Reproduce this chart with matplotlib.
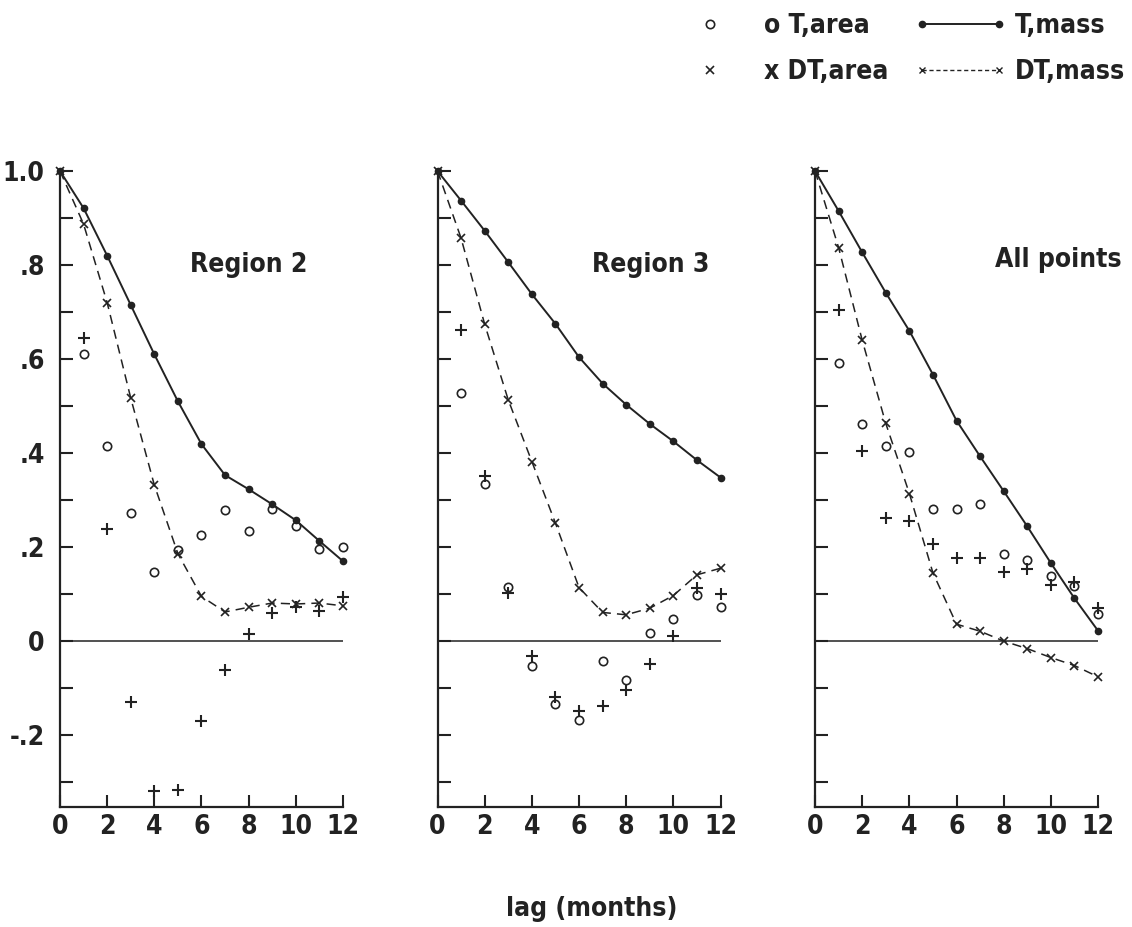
import numpy as np
import matplotlib
matplotlib.use("Agg")
import matplotlib.pyplot as plt
from matplotlib import font_manager as fm
from matplotlib.lines import Line2D
from matplotlib.legend_handler import HandlerLine2D

#%% Data
lags = np.arange(0, 13)
area_lags = np.arange(1, 13)

panel_titles = ["Region 2", "Region 3", "All points"]

# Region 2
r2_t_mass = [1.0, 0.921, 0.820, 0.715, 0.610, 0.510, 0.419, 0.353, 0.323, 0.291, 0.257, 0.213, 0.170]
r2_dt_mass = [1.0, 0.887, 0.720, 0.517, 0.332, 0.186, 0.095, 0.062, 0.072, 0.081, 0.079, 0.081, 0.075]
r2_t_area = [0.611, 0.414, 0.273, 0.146, 0.194, 0.225, 0.278, 0.234, 0.280, 0.244, 0.197, 0.200]
r2_dt_area = [0.645, 0.239, -0.130, -0.318, -0.316, -0.170, -0.061, 0.015, 0.059, 0.073, 0.063, 0.093]

# Region 3
r3_t_mass = [1.0, 0.937, 0.873, 0.806, 0.738, 0.675, 0.604, 0.548, 0.503, 0.462, 0.425, 0.385, 0.348]
r3_dt_mass = [1.0, 0.857, 0.674, 0.513, 0.382, 0.251, 0.114, 0.061, 0.056, 0.070, 0.097, 0.141, 0.155]
r3_t_area = [0.527, 0.335, 0.115, -0.053, -0.133, -0.167, -0.043, -0.083, 0.017, 0.047, 0.098, 0.072]
r3_dt_area = [0.661, 0.351, 0.102, -0.032, -0.118, -0.149, -0.137, -0.105, -0.049, 0.011, 0.113, 0.100]

# All points
all_t_mass = [1.0, 0.915, 0.827, 0.741, 0.660, 0.567, 0.469, 0.393, 0.319, 0.244, 0.166, 0.091, 0.022]
all_dt_mass = [1.0, 0.837, 0.640, 0.463, 0.314, 0.145, 0.036, 0.021, 0.000, -0.016, -0.035, -0.052, -0.076]
all_t_area = [0.592, 0.462, 0.414, 0.402, 0.281, 0.280, 0.291, 0.186, 0.173, 0.139, 0.118, 0.058]
all_dt_area = [0.705, 0.404, 0.262, 0.255, 0.207, 0.177, 0.177, 0.148, 0.154, 0.120, 0.125, 0.070]

t_mass = [r2_t_mass, r3_t_mass, all_t_mass]
dt_mass = [r2_dt_mass, r3_dt_mass, all_dt_mass]
t_area = [r2_t_area, r3_t_area, all_t_area]
dt_area = [r2_dt_area, r3_dt_area, all_dt_area]

xticks = [0, 2, 4, 6, 8, 10, 12]
yticks = [-0.2, 0, 0.2, 0.4, 0.6, 0.8, 1.0]
ytick_labels = ["-.2", "0", ".2", ".4", ".6", ".8", "1.0"]

#%% Font: the original is a condensed bold, look for one
def weight_num(w):
    if isinstance(w, (int, float)):
        return w
    return fm.weight_dict.get(str(w).lower(), 400)

def pick_condensed():
    best = None
    for f in fm.fontManager.ttflist:
        nm = f.name
        if "Mono" in nm or "Serif" in nm:
            continue
        st = f.stretch
        if isinstance(st, (int, float)):
            st = "condensed" if st <= 400 else "normal"
        if "Narrow" in nm:
            width = 0
        elif "Extra" in nm and "Condensed" in nm or st in ("extra-condensed", "ultra-condensed"):
            width = 2
        elif "Semi" in nm and "Condensed" in nm or st == "semi-condensed":
            width = 1
        elif "Condensed" in nm or st == "condensed":
            width = 0
        else:
            continue
        w = weight_num(f.weight)
        key = (0 if w >= 700 else 1, width, abs(w - 700))
        if best is None or key < best[0]:
            best = (key, f)
    return best

found = pick_condensed()
if found is not None:
    fprop = found[1]
    plt.rcParams['font.family'] = [fprop.name, 'DejaVu Sans']
    st = fprop.stretch if isinstance(fprop.stretch, str) else "condensed"
    plt.rcParams['font.stretch'] = st
    plt.rcParams['font.weight'] = weight_num(fprop.weight) if weight_num(fprop.weight) >= 700 else 'bold'
    fs = 19
else:
    plt.rcParams['font.family'] = ['Roboto', 'DejaVu Sans']
    plt.rcParams['font.weight'] = 'bold'
    fs = 17
fw = plt.rcParams['font.weight']

#%% Figure
fig = plt.figure(figsize=(11.32, 9.27), dpi=100)
ink = "#222222"

lefts = [0.0530, 0.3865, 0.7200]
title_pos = [(8.0, 0.80), (9.05, 0.80), (10.3, 0.81)]

for i in range(3):
    ax = fig.add_axes([lefts[i], 0.1294, 0.2500, 0.6861])
    ax.set_xlim(0, 12)
    ax.set_ylim(-0.353, 1.0)
    for s in ["top", "right"]:
        ax.spines[s].set_visible(False)
    for s in ["left", "bottom"]:
        ax.spines[s].set_linewidth(1.6)
        ax.spines[s].set_color(ink)

    ax.axhline(0, xmin=0, xmax=1, color=ink, lw=1.1)

    ax.plot(lags, t_mass[i], '-', color=ink, lw=1.4, marker='o', ms=4.5, clip_on=False, zorder=3)
    ax.plot(lags, dt_mass[i], color=ink, lw=1.1, ls=(0, (6, 4)), marker='x', ms=5.5, mew=1.2,
            clip_on=False, zorder=3)
    ax.plot(area_lags, t_area[i], 'o', mfc='none', mec=ink, ms=6, mew=1.2, clip_on=False, zorder=3)
    ax.plot(area_lags, dt_area[i], '+', color=ink, ms=8, mew=1.5, clip_on=False, zorder=3)

    ax.set_xticks(xticks)
    ax.set_xticklabels([str(t) for t in xticks], fontsize=fs, fontweight=fw, color=ink)
    ax.set_yticks(yticks)
    ax.set_yticks(np.arange(-0.3, 0.95, 0.1), minor=True)
    if i == 0:
        ax.set_yticklabels(ytick_labels, fontsize=fs, fontweight=fw, color=ink)
    else:
        ax.set_yticklabels([])
    ax.tick_params(axis='both', which='both', direction='in', length=9, width=1.5, color=ink)
    ax.tick_params(axis='x', pad=5)
    ax.tick_params(axis='y', pad=11)

    ax.text(title_pos[i][0], title_pos[i][1], panel_titles[i], fontsize=fs, fontweight=fw,
            color=ink, ha='center', va='center')

fig.text(592 / 1132, 1 - 909 / 927, "lag (months)", fontsize=fs, fontweight=fw, color=ink,
         ha='center', va='center')

#%% Legend
h_ta = Line2D([], [], ls='none', marker='o', mfc='none', mec=ink, ms=6, mew=1.2)
h_dta = Line2D([], [], ls='none', marker='x', color=ink, ms=6, mew=1.2)
h_tm = Line2D([], [], ls='-', color=ink, lw=1.4, marker='o', ms=4.5)
h_dtm = Line2D([], [], ls=(0, (3, 2)), color=ink, lw=1.0, marker='x', ms=5, mew=1.0)

leg = fig.legend([h_ta, h_dta, h_tm, h_dtm],
                 ["o T,area", "x DT,area", "T,mass", "DT,mass"],
                 ncol=2, loc='upper right', bbox_to_anchor=(1125 / 1132, 1 - 13 / 927),
                 frameon=False, fontsize=fs, handlelength=3.5, handletextpad=0.3,
                 columnspacing=1.0, labelspacing=0.75, borderpad=0, borderaxespad=0,
                 handler_map={h_ta: HandlerLine2D(numpoints=1), h_dta: HandlerLine2D(numpoints=1),
                              h_tm: HandlerLine2D(numpoints=2), h_dtm: HandlerLine2D(numpoints=2)})
for t in leg.get_texts():
    t.set_color(ink)
    t.set_fontweight(fw)

fig.savefig("out.png", dpi=100, facecolor="white")
